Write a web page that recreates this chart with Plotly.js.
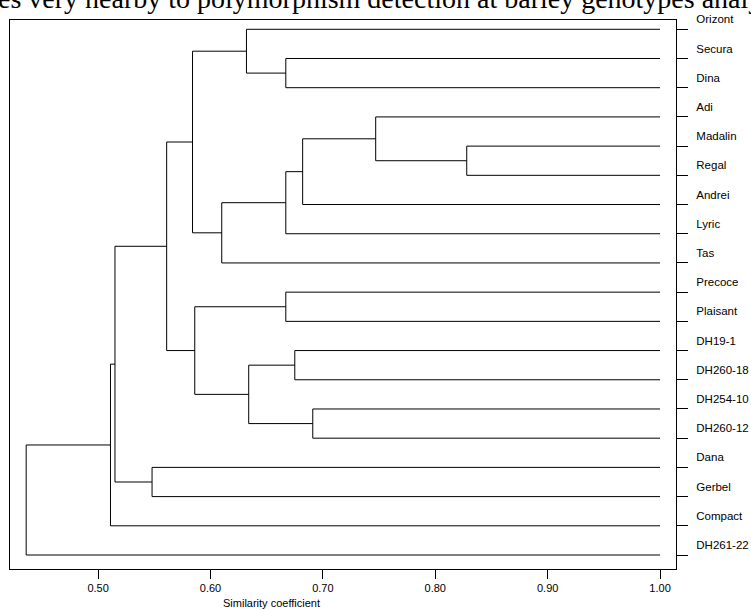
<!DOCTYPE html>
<html>
<head>
<meta charset="utf-8">
<script src="https://cdn.plot.ly/plotly-3.0.1.min.js"></script>
<style>html,body{margin:0;padding:0;background:#fff;}#chart{width:751px;height:610px;}</style>
</head>
<body>
<div id="chart"></div>
<script>
// Leaf labels, top to bottom
var leaves = ["Orizont","Secura","Dina","Adi","Madalin","Regal","Andrei","Lyric","Tas",
  "Precoce","Plaisant","DH19-1","DH260-18","DH254-10","DH260-12","Dana","Gerbel","Compact","DH261-22"];
// Merges: left child, right child (leaf name or merge id "m#"), similarity at merge
var mergeA = ["Madalin","DH254-10","DH19-1","Adi","m3","Secura","m4","Precoce","m2","Orizont","m6","m7","m9","m12","Dana","m13","m15","m16"];
var mergeB = ["Regal","DH260-12","DH260-18","m0","Andrei","Dina","Lyric","Plaisant","m1","m5","Tas","m8","m10","m11","Gerbel","m14","Compact","DH261-22"];
var mergeH = [0.828,0.691,0.675,0.747,0.682,0.667,0.667,0.667,0.634,0.632,0.610,0.586,0.584,0.561,0.548,0.515,0.511,0.436];
var xTicks = [0.5,0.6,0.7,0.8,0.9,1.0];

var leafH = 1.0;
var pos = {}, hgt = {};
leaves.forEach(function(n,i){pos[n]=i; hgt[n]=leafH;});
var xs=[], ys=[];
for (var k=0;k<mergeA.length;k++){
  var a=mergeA[k], b=mergeB[k], h=mergeH[k];
  xs.push(hgt[a],h,h,hgt[b],null);
  ys.push(pos[a],pos[a],pos[b],pos[b],null);
  pos["m"+k]=(pos[a]+pos[b])/2; hgt["m"+k]=h;
}
var trace = {x:xs, y:ys, type:'scatter', mode:'lines', line:{color:'#000',width:1}, hoverinfo:'skip', showlegend:false};

var layout = {
  width:751, height:610,
  margin:{l:10, r:75, t:20, b:41},
  paper_bgcolor:'#fff', plot_bgcolor:'#fff',
  showlegend:false,
  xaxis:{range:[0.4216,1.0142], tickvals:xTicks, ticktext:xTicks.map(function(v){return v.toFixed(2);}),
    ticks:'outside', ticklen:9, tickcolor:'#000', tickwidth:1,
    showline:true, mirror:true, linecolor:'#000', linewidth:1,
    showgrid:false, zeroline:false,
    tickfont:{family:'Liberation Sans, Arial, sans-serif', size:11, color:'#000'}},
  yaxis:{range:[18.479,-0.318], side:'right', tickvals:leaves.map(function(n,i){return i;}), ticktext:leaves,
    ticks:'outside', ticklen:11, tickcolor:'#000', tickwidth:1, ticklabelshift:10, ticklabelstandoff:6,
    showline:true, mirror:true, linecolor:'#000', linewidth:1,
    showgrid:false, zeroline:false,
    tickfont:{family:'Liberation Sans, Arial, sans-serif', size:11.5, color:'#000'}},
  annotations:[
    {text:'es very nearby to polymorphism detection at barley genotypes analysis', xref:'paper', yref:'paper',
     x:(-4-10)/666, xanchor:'left', y:1+(20+1)/549, yanchor:'middle', showarrow:false,
     font:{family:'Liberation Serif, Times New Roman, serif', size:28, color:'#000'}},
    {text:'Similarity coefficient', xref:'paper', yref:'paper', x:(271-10)/666, xanchor:'center',
     y:(569-603)/549, yanchor:'middle', showarrow:false,
     font:{family:'Liberation Sans, Arial, sans-serif', size:11, color:'#000'}}
  ]
};
Plotly.newPlot('chart',[trace],layout,{displayModeBar:false, staticPlot:true});
</script>
</body>
</html>
